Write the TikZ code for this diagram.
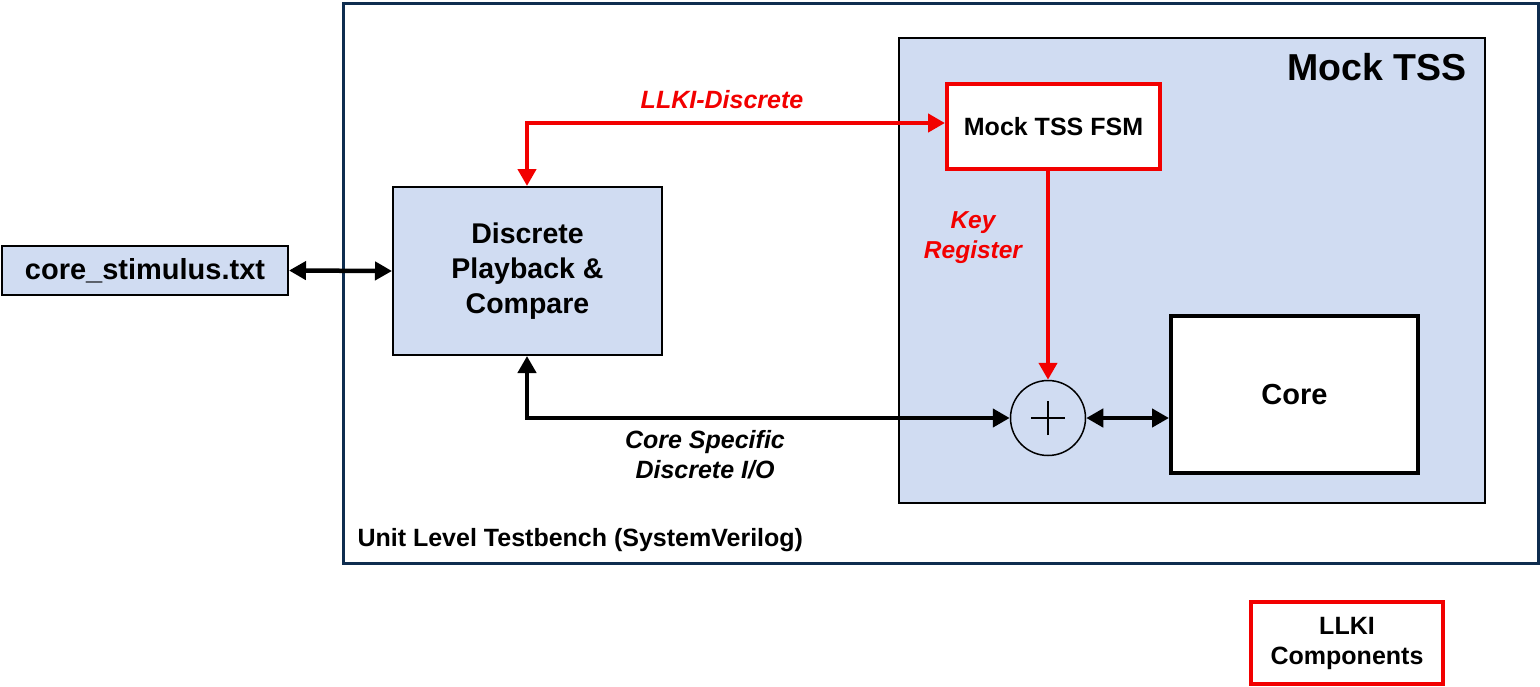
\documentclass[tikz,border=0pt]{standalone}
\usepackage{fontspec}
\setmainfont{Liberation Sans}
\usetikzlibrary{arrows.meta}
\definecolor{navy}{HTML}{0F2D4F}
\definecolor{lblue}{HTML}{D0DCF2}
\definecolor{llred}{HTML}{F20000}
\tikzset{
  blk/.style={draw=black, line width=2pt, fill=lblue, align=center, font=\bfseries},
  redbox/.style={draw=llred, line width=4pt, fill=white, align=center, font=\bfseries},
  conn/.style={line width=4.5pt, -{Triangle[length=17pt,width=18pt]}},
  bconn/.style={line width=4.5pt, {Triangle[length=17pt,width=18pt]}-{Triangle[length=17pt,width=18pt]}},
  lbl/.style={font=\bfseries\itshape, align=center},
}
\begin{document}
\begin{tikzpicture}[x=1pt,y=-1pt]
\useasboundingbox (0,0) rectangle (1540,686);
% outer testbench
\node[draw=navy, line width=3pt, minimum width=1195pt, minimum height=560pt, anchor=north west, inner sep=0pt] (tb) at (342,2) {};
\node[font=\bfseries\fontsize{25}{29}\selectfont, anchor=west] (tblbl) at (354,540) {Unit Level Testbench (SystemVerilog)};
% mock tss
\node[draw=black, line width=2pt, fill=lblue, minimum width=586pt, minimum height=465pt, anchor=north west, inner sep=0pt] (mtss) at (898,37) {};
\node[font=\bfseries\fontsize{37.5}{42}\selectfont, anchor=east] (mtsslbl) at (1470,67) {Mock TSS};
% nodes
\node[redbox, minimum width=213pt, minimum height=85pt, anchor=north west, inner sep=0pt, font=\bfseries\fontsize{25}{29}\selectfont] (fsm) at (945,82) {Mock TSS FSM};
\node[blk, minimum width=269pt, minimum height=168pt, anchor=north west, inner sep=0pt, font=\bfseries\fontsize{28.5}{35}\selectfont] (dpc) at (392,186) {Discrete\\Playback \&\\Compare};
\node[blk, minimum width=286pt, minimum height=49pt, anchor=north west, inner sep=0pt, font=\bfseries\fontsize{29}{33}\selectfont] (stim) at (1,245) {core\_stimulus.txt};
\node[draw=black, line width=4pt, fill=white, minimum width=247pt, minimum height=157pt, anchor=north west, inner sep=0pt, font=\bfseries\fontsize{29}{33}\selectfont] (core) at (1169,314) {Core};
\node[draw=black, line width=1.5pt, circle, minimum size=75pt, inner sep=0pt] (sum) at (1048,418) {};
\draw[line width=1.5pt] ([xshift=-17pt]sum.center) -- ([xshift=17pt]sum.center);
\draw[line width=1.5pt] ([yshift=-17pt]sum.center) -- ([yshift=17pt]sum.center);
\node[redbox, minimum width=192pt, minimum height=82pt, anchor=north west, inner sep=0pt, font=\bfseries\fontsize{25}{30}\selectfont] (legend) at (1249,600) {LLKI\\Components};
% connectors
\draw[bconn] (stim.east) -- (dpc.west);
\coordinate (rc) at (527,123);
\draw[bconn, draw=llred] (dpc.north -| rc) -- (rc) -- (fsm.west |- rc);
\draw[conn, draw=llred] (fsm.south -| sum) -- (sum.north);
\coordinate (bc) at (527,418);
\draw[bconn] (dpc.south -| bc) -- (bc) -- (sum.west);
\draw[bconn] (sum.east) -- (sum.east -| core.west);
% labels
\node[lbl, text=llred, font=\bfseries\itshape\fontsize{25}{29}\selectfont] (l1) at (722,100) {LLKI-Discrete};
\node[lbl, text=llred, font=\bfseries\itshape\fontsize{24.5}{30}\selectfont] (l2) at (973,238) {Key\\Register};
\node[lbl, font=\bfseries\itshape\fontsize{25}{30}\selectfont] (l3) at (705,455) {Core Specific\\Discrete I/O};
\end{tikzpicture}
\end{document}
